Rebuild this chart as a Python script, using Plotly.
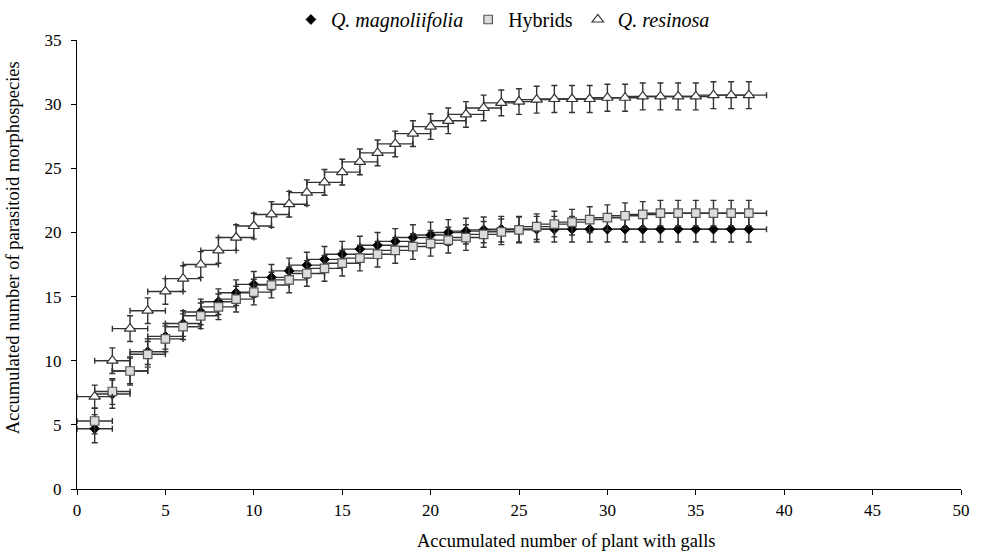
import plotly.graph_objects as go

plants = list(range(1, 39))

magnoliifolia = [4.7, 7.4, 9.2, 10.7, 11.9, 12.9, 13.8, 14.6, 15.3, 15.95,
                 16.5, 17.0, 17.45, 17.9, 18.3, 18.7, 19.0, 19.3, 19.6, 19.8,
                 20.0, 20.1, 20.2, 20.25, 20.25, 20.25, 20.25, 20.25, 20.25, 20.25,
                 20.25, 20.25, 20.25, 20.25, 20.25, 20.25, 20.25, 20.25]
magnoliifolia_err = [1.1, 1.1, 1.1, 1.0, 1.0, 1.0, 1.0, 1.0, 1.0, 1.0,
                     1.0, 1.0, 1.0, 1.0, 1.0, 1.0, 1.0, 1.0, 1.0, 1.0,
                     1.0, 1.0, 1.0, 1.0, 1.0, 1.0, 1.0, 1.0, 1.0, 1.0,
                     1.0, 1.0, 1.0, 1.0, 1.0, 1.0, 1.0, 1.0]

hybrids = [5.3, 7.6, 9.2, 10.5, 11.7, 12.65, 13.5, 14.2, 14.8, 15.35,
           15.9, 16.3, 16.8, 17.2, 17.6, 18.0, 18.3, 18.6, 18.9, 19.15,
           19.4, 19.6, 19.85, 20.05, 20.2, 20.45, 20.65, 20.8, 21.0, 21.15,
           21.3, 21.4, 21.5, 21.5, 21.5, 21.5, 21.5, 21.5]
hybrids_err = [1.0, 1.0, 1.0, 1.0, 1.0, 1.0, 1.0, 1.0, 1.0, 1.0,
               1.0, 1.0, 1.0, 1.0, 1.0, 1.0, 1.0, 1.0, 1.0, 1.0,
               1.0, 1.0, 1.0, 1.0, 1.0, 1.0, 1.0, 1.0, 1.0, 1.0,
               1.0, 1.0, 1.0, 1.0, 1.0, 1.0, 1.0, 1.0]

resinosa = [7.2, 10.0, 12.5, 13.9, 15.4, 16.4, 17.5, 18.6, 19.6, 20.5,
            21.4, 22.2, 23.1, 23.9, 24.7, 25.5, 26.2, 26.9, 27.7, 28.25,
            28.7, 29.2, 29.7, 30.1, 30.2, 30.35, 30.4, 30.4, 30.4, 30.5,
            30.5, 30.6, 30.6, 30.6, 30.6, 30.7, 30.7, 30.7]
resinosa_err = [0.9, 1.0, 1.0, 1.0, 1.0, 1.0, 1.0, 1.0, 1.0, 1.0,
                1.0, 1.0, 1.0, 1.0, 1.0, 1.0, 1.0, 1.0, 1.0, 1.0,
                1.0, 1.0, 1.0, 1.0, 1.0, 1.05, 1.05, 1.05, 1.05, 1.05,
                1.05, 1.05, 1.05, 1.05, 1.05, 1.05, 1.05, 1.05]

plants_err = [1] * len(plants)

x_ticks = [0, 5, 10, 15, 20, 25, 30, 35, 40, 45, 50]
y_ticks = [0, 5, 10, 15, 20, 25, 30, 35]

x_title = "Accumulated number of plant with galls"
y_title = "Accumulated number of parasitoid morphospecies"

FONT = "Liberation Serif"
ERR_COLOR = "#333333"

def err(vals):
    return dict(type="data", array=vals, visible=True, color=ERR_COLOR,
                thickness=1.4, width=3)

fig = go.Figure()
fig.add_trace(go.Scatter(
    x=plants, y=magnoliifolia, mode="markers", name="<i>Q. magnoliifolia</i>",
    marker=dict(symbol="diamond", size=7.5, color="black",
                line=dict(color="black", width=1)),
    error_y=err(magnoliifolia_err), error_x=err(plants_err)))
fig.add_trace(go.Scatter(
    x=plants, y=hybrids, mode="markers", name="Hybrids",
    marker=dict(symbol="square", size=8.5, color="#dcdcdc",
                line=dict(color="#555555", width=1.2)),
    error_y=err(hybrids_err), error_x=err(plants_err)))
fig.add_trace(go.Scatter(
    x=plants, y=resinosa, mode="markers", name="<i>Q. resinosa</i>",
    marker=dict(symbol="triangle-up", size=10, color="white",
                line=dict(color="#333333", width=1.2)),
    error_y=err(resinosa_err), error_x=err(plants_err)))

axis_common = dict(showline=True, linecolor="black", linewidth=1.2,
                   ticks="outside", ticklen=5, tickcolor="black",
                   showgrid=False, zeroline=False, automargin=False,
                   tickfont=dict(family=FONT, size=17, color="black"))

fig.update_layout(
    width=982, height=552,
    margin=dict(l=77, r=21, t=40, b=63, autoexpand=False),
    paper_bgcolor="white", plot_bgcolor="white",
    font=dict(family=FONT, size=17, color="black"),
    showlegend=True,
    legend=dict(orientation="h", x=0.242, xanchor="left",
                yref="container", y=1.0, yanchor="top", itemwidth=30,
                font=dict(family=FONT, size=20, color="black"),
                bgcolor="rgba(0,0,0,0)"),
    xaxis=dict(range=[0, 50], tickvals=x_ticks, **axis_common),
    yaxis=dict(range=[0, 35], tickvals=y_ticks, ticklabelstandoff=6,
               **axis_common),
    annotations=[
        dict(text=x_title, xref="paper", yref="paper", x=0.554, y=-0.116,
             xanchor="center", yanchor="middle", showarrow=False,
             font=dict(family=FONT, size=18.5, color="black")),
        dict(text=y_title, xref="paper", yref="paper", x=-0.072, y=0.537,
             xanchor="center", yanchor="middle", textangle=-90,
             showarrow=False,
             font=dict(family=FONT, size=18.5, color="black")),
    ],
)

fig.write_html("out.html", config={"displayModeBar": False},
               post_script="document.body.style.margin='0px';")
